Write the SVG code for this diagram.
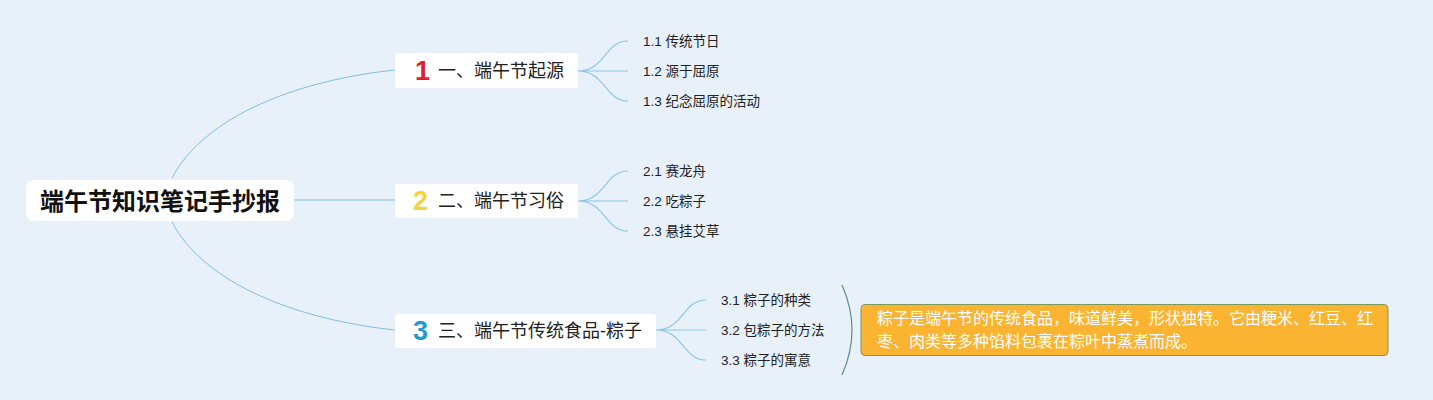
<svg xmlns="http://www.w3.org/2000/svg" width="1433" height="400" viewBox="0 0 1433 400">
<style>
.box{fill:#ffffff;}
.main{stroke:#7fbde3;stroke-width:1;fill:none;}
.sub{stroke:#8ec6ea;stroke-width:1.2;fill:none;}
.root{font-family:"Liberation Sans","Noto Sans CJK SC",sans-serif;font-weight:bold;font-size:24px;fill:#111;}
.t1{font-family:"Liberation Sans","Noto Sans CJK SC",sans-serif;font-size:18px;fill:#222;}
.num{font-family:"Liberation Sans","Noto Sans CJK SC",sans-serif;font-weight:bold;font-size:27px;}
.t2{font-family:"Liberation Sans","Noto Sans CJK SC",sans-serif;font-size:13.5px;fill:#222;}
.note{font-family:"Liberation Sans","Noto Sans CJK SC",sans-serif;font-size:16px;fill:#ffffff;}
</style>
<rect width="1433" height="400" fill="#e8f0f9"/>
<g id="connectors">
<path class="main" d="M172,178 C205,115 300,80 395,70"/>
<path class="main" d="M294,200 L395,200"/>
<path class="main" d="M172,222 C205,285 300,320 395,330"/>
<path class="sub" d="M578,71 C605,71 605,41 628,41 M578,71 L628,71 M578,71 C605,71 605,101 628,101"/>
<path class="sub" d="M578,201 C605,201 605,171 628,171 M578,201 L628,201 M578,201 C605,201 605,231 628,231"/>
<path class="sub" d="M656,330 C683,330 683,300 706,300 M656,330 L706,330 M656,330 C683,330 683,360 706,360"/>
<path d="M842,285 Q862,330 842,375" fill="none" stroke="#5f8f88" stroke-width="1.2"/>
</g>
<g id="root">
<rect class="box" x="26" y="180" width="268" height="41" rx="8"/>
<text class="root" x="160" y="209.5" text-anchor="middle">端午节知识笔记手抄报</text>
</g>
<g id="b1">
<rect class="box" x="395" y="53" width="183" height="35" rx="3"/>
<text class="num" x="415" y="80" fill="#e0202e">1</text>
<text class="t1" x="438" y="77">一、端午节起源</text>
</g>
<g id="b2">
<rect class="box" x="395" y="184" width="183" height="34" rx="3"/>
<text class="num" x="413" y="210" fill="#f5d33a">2</text>
<text class="t1" x="438" y="207">二、端午节习俗</text>
</g>
<g id="b3">
<rect class="box" x="395" y="314" width="261" height="34" rx="3"/>
<text class="num" x="413" y="340" fill="#1e9ad6">3</text>
<text class="t1" x="438" y="337">三、端午节传统食品-粽子</text>
</g>
<g id="s11"><text class="t2" x="643" y="46">1.1 传统节日</text></g>
<g id="s12"><text class="t2" x="643" y="76">1.2 源于屈原</text></g>
<g id="s13"><text class="t2" x="643" y="106">1.3 纪念屈原的活动</text></g>
<g id="s21"><text class="t2" x="643" y="176">2.1 赛龙舟</text></g>
<g id="s22"><text class="t2" x="643" y="206">2.2 吃粽子</text></g>
<g id="s23"><text class="t2" x="643" y="236">2.3 悬挂艾草</text></g>
<g id="s31"><text class="t2" x="721" y="305">3.1 粽子的种类</text></g>
<g id="s32"><text class="t2" x="721" y="335">3.2 包粽子的方法</text></g>
<g id="s33"><text class="t2" x="721" y="365">3.3 粽子的寓意</text></g>
<g id="note">
<rect x="861" y="304.5" width="527" height="51" rx="4" fill="#fbb332" stroke="#7b9a5e" stroke-width="1"/>
<text class="note" x="877" y="324">粽子是端午节的传统食品，味道鲜美，形状独特。它由粳米、红豆、红</text>
<text class="note" x="877" y="347">枣、肉类等多种馅料包裹在粽叶中蒸煮而成。</text>
</g>
</svg>
